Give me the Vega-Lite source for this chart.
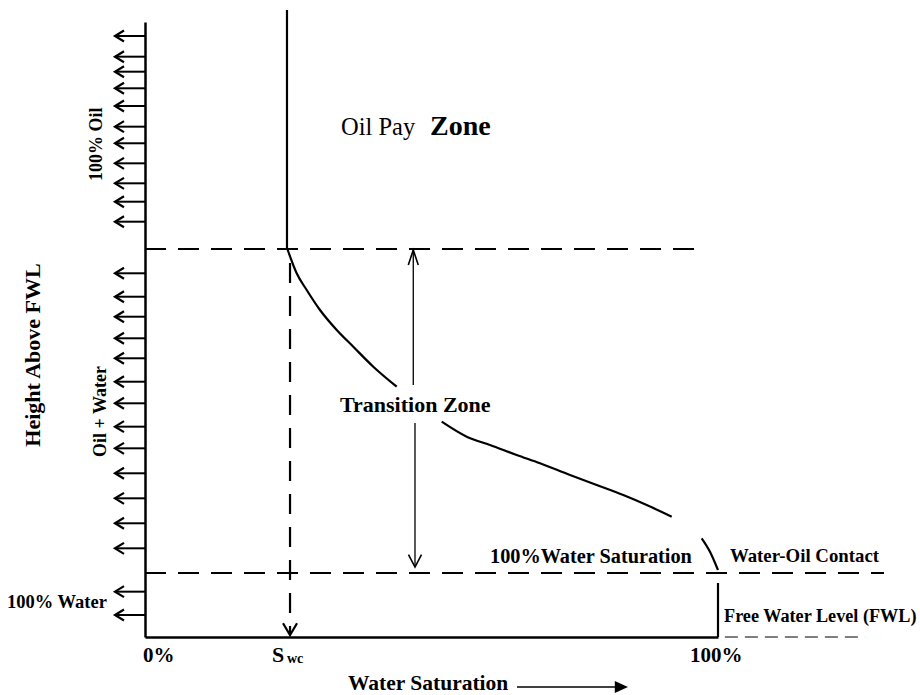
{
  "$schema": "https://vega.github.io/schema/vega-lite/v6.json",
  "autosize": {"type": "none"},
  "width": 573,
  "height": 615,
  "padding": {"left": 145, "top": 22, "right": 202, "bottom": 58},
  "background": "white",
  "config": {"view": {"stroke": null}},
  "datasets": {
    "sideArrows": [
      {"x": -5.24, "x2": 0, "y": 97.72}, {"x": -5.24, "x2": 0, "y": 94.36}, {"x": -5.24, "x2": 0, "y": 91.92},
      {"x": -5.24, "x2": 0, "y": 89.22}, {"x": -5.24, "x2": 0, "y": 86.34}, {"x": -5.24, "x2": 0, "y": 82.98},
      {"x": -5.24, "x2": 0, "y": 80.28}, {"x": -5.24, "x2": 0, "y": 77.02}, {"x": -5.24, "x2": 0, "y": 73.77},
      {"x": -5.24, "x2": 0, "y": 70.78}, {"x": -5.24, "x2": 0, "y": 67.53}, {"x": -5.24, "x2": 0, "y": 59.14},
      {"x": -5.24, "x2": 0, "y": 55.33}, {"x": -5.24, "x2": 0, "y": 52.08}, {"x": -5.24, "x2": 0, "y": 48.57},
      {"x": -5.24, "x2": 0, "y": 45.32}, {"x": -5.24, "x2": 0, "y": 41.51}, {"x": -5.24, "x2": 0, "y": 38.0},
      {"x": -5.24, "x2": 0, "y": 34.2}, {"x": -5.24, "x2": 0, "y": 30.68}, {"x": -5.24, "x2": 0, "y": 26.62},
      {"x": -5.24, "x2": 0, "y": 22.55}, {"x": -5.24, "x2": 0, "y": 18.49}, {"x": -5.24, "x2": 0, "y": 14.42},
      {"x": -5.24, "x2": 0, "y": 7.37}, {"x": -5.24, "x2": 0, "y": 3.58}
    ],
    "curve": [
      {"seg": "A", "x": 24.85, "y": 63.09}, {"seg": "A", "x": 26.47, "y": 59.14}, {"seg": "A", "x": 28.22, "y": 56.42},
      {"seg": "A", "x": 30.54, "y": 53.17}, {"seg": "A", "x": 33.46, "y": 49.92}, {"seg": "A", "x": 36.35, "y": 47.2},
      {"seg": "A", "x": 39.84, "y": 43.95}, {"seg": "A", "x": 43.93, "y": 40.7},
      {"seg": "B", "x": 51.78, "y": 35.01}, {"seg": "B", "x": 56.14, "y": 32.57}, {"seg": "B", "x": 60.21, "y": 31.22},
      {"seg": "B", "x": 64.87, "y": 29.59}, {"seg": "B", "x": 68.94, "y": 28.24}, {"seg": "B", "x": 74.17, "y": 26.34},
      {"seg": "B", "x": 78.83, "y": 24.72}, {"seg": "B", "x": 83.47, "y": 23.09}, {"seg": "B", "x": 87.56, "y": 21.46},
      {"seg": "B", "x": 91.92, "y": 19.56},
      {"seg": "C", "x": 97.15, "y": 16.05}, {"seg": "C", "x": 98.6, "y": 13.87}, {"seg": "C", "x": 100.0, "y": 10.9}
    ]
  },
  "encoding": {
    "x": {"field": "x", "type": "quantitative", "scale": {"domain": [0, 100], "nice": false, "zero": false},
          "axis": {"title": null, "labels": false, "ticks": false, "grid": false, "domainColor": "black", "domainWidth": 2.5}},
    "y": {"field": "y", "type": "quantitative", "scale": {"domain": [0, 100], "nice": false, "zero": false},
          "axis": {"title": null, "labels": false, "ticks": false, "grid": false, "domainColor": "black", "domainWidth": 2.5}}
  },
  "layer": [
    {
      "data": {"values": [{"x": 0, "x2": 97.7, "y": 63.09}, {"x": 0, "x2": 128.97, "y": 10.41}]},
      "mark": {"type": "rule", "color": "black", "strokeWidth": 2.2, "strokeDash": [21, 12]},
      "encoding": {"x2": {"field": "x2"}}
    },
    {
      "data": {"values": [{"x": 101.2, "x2": 125.65, "y": 0}]},
      "mark": {"type": "rule", "color": "black", "strokeWidth": 1.2, "strokeDash": [13, 7]},
      "encoding": {"x2": {"field": "x2"}}
    },
    {
      "data": {"values": [{"x": 25.31, "y": 60.8, "y2": 0.5}]},
      "mark": {"type": "rule", "color": "black", "strokeWidth": 2.2, "strokeDash": [20, 13]},
      "encoding": {"y2": {"field": "y2"}}
    },
    {
      "data": {"values": [{"x": 24.78, "y": 101.95, "y2": 63.09}, {"x": 100, "y": 0, "y2": 8.78}]},
      "mark": {"type": "rule", "color": "black", "strokeWidth": 2.2},
      "encoding": {"y2": {"field": "y2"}}
    },
    {
      "data": {"values": [{"x": 46.82, "y": 62.93, "y2": 40.98}, {"x": 47.12, "y": 34.8, "y2": 11.38}]},
      "mark": {"type": "rule", "color": "black", "strokeWidth": 1.3},
      "encoding": {"y2": {"field": "y2"}}
    },
    {
      "data": {"name": "sideArrows"},
      "mark": {"type": "rule", "color": "black", "strokeWidth": 2},
      "encoding": {"x2": {"field": "x2"}}
    },
    {
      "data": {"name": "sideArrows"},
      "mark": {"type": "point", "shape": "M1.64,-1L0,0L1.64,1", "size": 121, "filled": false, "stroke": "black", "strokeWidth": 2.2, "opacity": 1}
    },
    {
      "data": {"name": "curve"},
      "mark": {"type": "line", "color": "black", "strokeWidth": 2.2, "interpolate": "monotone"},
      "encoding": {"detail": {"field": "seg"}}
    },
    {
      "data": {"values": [{"x": 25.31, "y": 0.3}]},
      "mark": {"type": "point", "shape": "M-1,-1.7L0,0L1,-1.7", "size": 196, "filled": false, "stroke": "black", "strokeWidth": 2.2, "opacity": 1}
    },
    {
      "data": {"values": [{"x": 46.82, "y": 62.93}]},
      "mark": {"type": "point", "shape": "M-1,3L0,0L1,3", "size": 100, "filled": false, "stroke": "black", "strokeWidth": 1.6, "opacity": 1}
    },
    {
      "data": {"values": [{"x": 47.12, "y": 11.38}]},
      "mark": {"type": "point", "shape": "M-1,-1.9L0,0L1,-1.9", "size": 169, "filled": false, "stroke": "black", "strokeWidth": 1.6, "opacity": 1}
    },
    {
      "data": {"values": [{"x": 64.92, "x2": 82.9, "y": -8.13}]},
      "mark": {"type": "rule", "color": "black", "strokeWidth": 1.3},
      "encoding": {"x2": {"field": "x2"}}
    },
    {
      "data": {"values": [{"x": 84.29, "y": -8.13}]},
      "mark": {"type": "point", "shape": "M0,0L-2.2,-1L-2.2,1Z", "size": 144, "filled": true, "color": "black", "opacity": 1}
    },
    {
      "data": {"values": [{"label": "100% Water", "x": -24.08, "y": 4.72}]},
      "mark": {"type": "text", "font": "Liberation Serif", "fontWeight": "bold", "fontSize": 18.5, "align": "left", "baseline": "alphabetic", "color": "black"},
      "encoding": {"text": {"field": "label"}}
    },
    {
      "data": {"values": [{"label": "Water-Oil Contact", "x": 102.09, "y": 12.2}]},
      "mark": {"type": "text", "font": "Liberation Serif", "fontWeight": "bold", "fontSize": 18.8, "align": "left", "baseline": "alphabetic", "color": "black"},
      "encoding": {"text": {"field": "label"}}
    },
    {
      "data": {"values": [{"label": "Free Water Level (FWL)", "x": 101.05, "y": 2.44}]},
      "mark": {"type": "text", "font": "Liberation Serif", "fontWeight": "bold", "fontSize": 18.2, "align": "left", "baseline": "alphabetic", "color": "black"},
      "encoding": {"text": {"field": "label"}}
    },
    {
      "data": {"values": [{"label": "100%Water Saturation", "x": 60.21, "y": 12.03}]},
      "mark": {"type": "text", "font": "Liberation Serif", "fontWeight": "bold", "fontSize": 20.3, "align": "left", "baseline": "alphabetic", "color": "black"},
      "encoding": {"text": {"field": "label"}}
    },
    {
      "data": {"values": [{"label": "Water Saturation", "x": 35.43, "y": -8.62}]},
      "mark": {"type": "text", "font": "Liberation Serif", "fontWeight": "bold", "fontSize": 21.5, "align": "left", "baseline": "alphabetic", "color": "black"},
      "encoding": {"text": {"field": "label"}}
    },
    {
      "data": {"values": [
        {"label": "0%", "x": -0.35, "y": -4.07},
        {"label": "100%", "x": 95.11, "y": -4.07}
      ]},
      "mark": {"type": "text", "font": "Liberation Serif", "fontWeight": "bold", "fontSize": 21, "align": "left", "baseline": "alphabetic", "color": "black"},
      "encoding": {"text": {"field": "label"}}
    },
    {
      "data": {"values": [
        {"label": "Transition Zone", "x": 34.03, "y": 36.59},
        {"label": "S", "x": 22.16, "y": -4.07}
      ]},
      "mark": {"type": "text", "font": "Liberation Serif", "fontWeight": "bold", "fontSize": 22, "align": "left", "baseline": "alphabetic", "color": "black"},
      "encoding": {"text": {"field": "label"}}
    },
    {
      "data": {"values": [{"label": "wc", "x": 24.78, "y": -4.23}]},
      "mark": {"type": "text", "font": "Liberation Serif", "fontWeight": "bold", "fontSize": 14, "align": "left", "baseline": "alphabetic", "color": "black"},
      "encoding": {"text": {"field": "label"}}
    },
    {
      "data": {"values": [{"label": "Oil Pay", "x": 34.21, "y": 81.63}]},
      "mark": {"type": "text", "font": "Liberation Serif", "fontWeight": "normal", "fontSize": 24.5, "align": "left", "baseline": "alphabetic", "color": "black"},
      "encoding": {"text": {"field": "label"}}
    },
    {
      "data": {"values": [{"label": "Zone", "x": 49.74, "y": 81.63}]},
      "mark": {"type": "text", "font": "Liberation Serif", "fontWeight": "bold", "fontSize": 28, "align": "left", "baseline": "alphabetic", "color": "black"},
      "encoding": {"text": {"field": "label"}}
    },
    {
      "data": {"values": [{"label": "Height Above FWL", "x": -18.32, "y": 45.85}]},
      "mark": {"type": "text", "font": "Liberation Serif", "fontWeight": "bold", "fontSize": 22, "align": "center", "baseline": "alphabetic", "angle": 270, "color": "black"},
      "encoding": {"text": {"field": "label"}}
    },
    {
      "data": {"values": [
        {"label": "100% Oil", "x": -7.56, "y": 80.13},
        {"label": "Oil + Water", "x": -6.81, "y": 36.67}
      ]},
      "mark": {"type": "text", "font": "Liberation Serif", "fontWeight": "bold", "fontSize": 18, "align": "center", "baseline": "alphabetic", "angle": 270, "color": "black"},
      "encoding": {"text": {"field": "label"}}
    }
  ]
}
